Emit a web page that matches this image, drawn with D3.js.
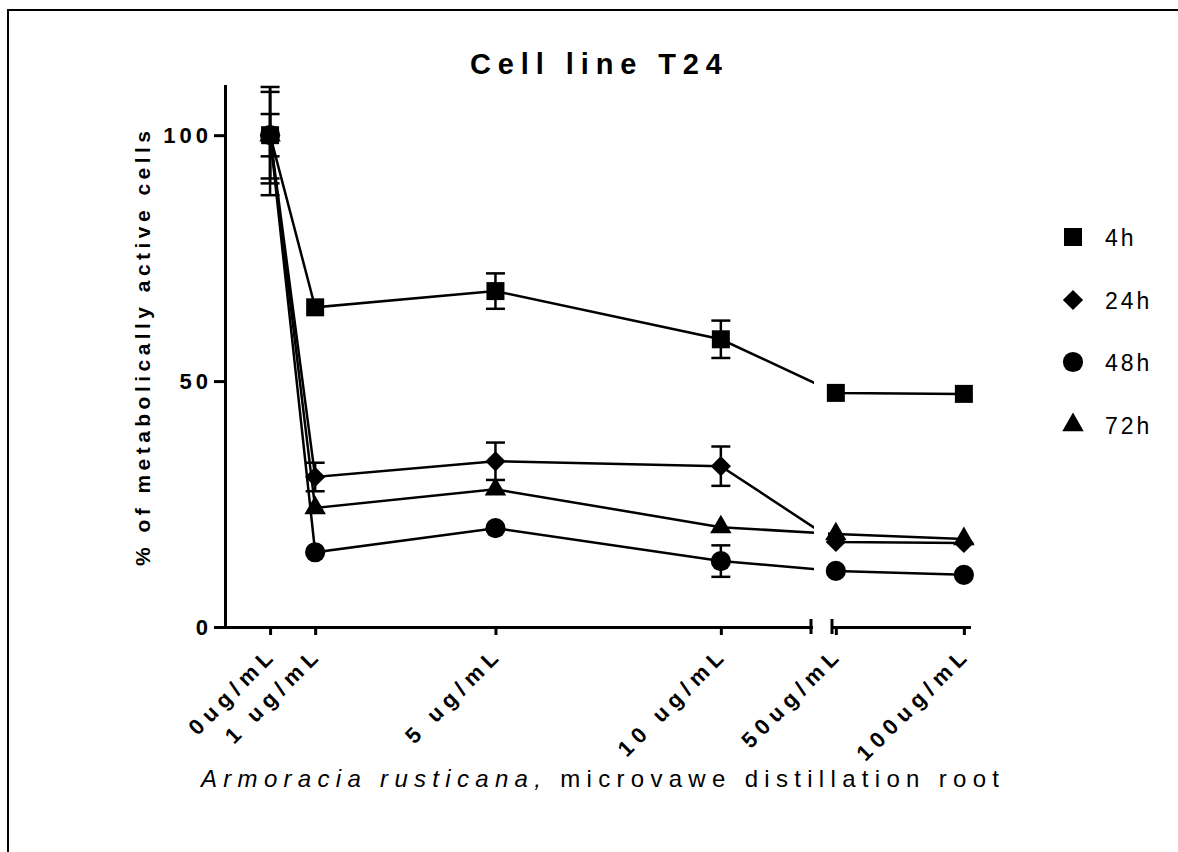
<!DOCTYPE html>
<html>
<head>
<meta charset="utf-8">
<style>
  body { margin: 0; background: #fff; }
  svg { display: block; font-family: "Liberation Sans", Arial, sans-serif; }
</style>
</head>
<body>
<svg width="1178" height="852"></svg>
<script src="https://d3js.org/d3.v7.min.js"></script>
<script>
// doses (ug/mL) and their tick labels
const doses = [0, 1, 5, 10, 50, 100];
const doseLabels = ["0ug/mL", "1 ug/mL", "5 ug/mL", "10 ug/mL", "50ug/mL", "100ug/mL"];
const seriesNames = ["4h", "24h", "48h", "72h"];

// % of metabolically active cells, mean and SD per dose
const values4h  = [100, 65.0, 68.3, 58.5, 47.6, 47.4];
const err4h     = [4.3, 0, 3.6, 3.8, 0, 0];
const values24h = [100, 30.5, 33.7, 32.7, 17.3, 17.1];
const err24h    = [9.8, 2.9, 3.8, 4.0, 0, 0];
const values48h = [100, 15.2, 20.1, 13.4, 11.4, 10.6];
const err48h    = [8.8, 0, 0, 3.2, 0, 0];
const values72h = [100, 24.2, 28.0, 20.3, 18.9, 17.9];
const err72h    = [12.2, 0, 0, 0, 0, 0];

const yTicks = [0, 50, 100];

const series = [
  { name: seriesNames[0], values: values4h,  errs: err4h,  shape: "square" },
  { name: seriesNames[1], values: values24h, errs: err24h, shape: "diamond" },
  { name: seriesNames[2], values: values48h, errs: err48h, shape: "circle" },
  { name: seriesNames[3], values: values72h, errs: err72h, shape: "triangle" }
];

const svg = d3.select("svg");

// outer frame (only top and left edges show)
svg.append("path").attr("d", "M8,852V10H1178")
  .attr("fill", "none").attr("stroke", "#000").attr("stroke-width", 2);

// broken x axis: two linear segments
const xLow = d3.scaleLinear().domain([-1, 12]).range([225, 811]);
const xHigh = d3.scaleLinear().domain([48.5, 102]).range([832, 969]);
const xPos = v => v <= 12 ? xLow(v) : xHigh(v);
const y = d3.scaleLinear().domain([0, 110]).range([627, 86]);

// axes
const axisW = 3;
const gxLow = svg.append("g").attr("transform", "translate(0,627)")
  .call(d3.axisBottom(xLow).tickValues([0, 1, 5, 10]).tickSize(8).tickSizeOuter(0).tickFormat(""));
const gxHigh = svg.append("g").attr("transform", "translate(0,627)")
  .call(d3.axisBottom(xHigh).tickValues([50, 100]).tickSize(8).tickSizeOuter(0).tickFormat(""));
const gy = svg.append("g").attr("transform", "translate(225,0)")
  .call(d3.axisLeft(y).tickValues(yTicks).tickSize(11).tickSizeOuter(0).tickPadding(2));

[gxLow, gxHigh, gy].forEach(g => {
  g.selectAll("path, line").attr("stroke", "#000").attr("stroke-width", axisW);
  g.select(".domain").attr("stroke-linecap", "square");
});
gy.selectAll("text")
  .attr("fill", "#000").attr("font-size", 22).attr("font-weight", "bold")
  .attr("font-family", "Liberation Sans, Arial, sans-serif")
  .attr("letter-spacing", "4px");

// break marks
[811, 832].forEach(bx => {
  svg.append("line").attr("x1", bx).attr("x2", bx).attr("y1", 619).attr("y2", 634)
    .attr("stroke", "#000").attr("stroke-width", axisW);
});

// x tick labels, rotated
const tickLS = 6;
svg.append("g").selectAll("text").data(doses).join("text")
  .attr("transform", d => `translate(${xPos(d) + 4 + tickLS * 0.707},${660 - tickLS * 0.707}) rotate(-45)`)
  .attr("text-anchor", "end")
  .attr("font-size", 22).attr("font-weight", "bold")
  .attr("letter-spacing", tickLS + "px")
  .text((d, i) => doseLabels[i]);

// titles
svg.append("text").attr("x", 470).attr("y", 74)
  .attr("font-size", 29).attr("font-weight", "bold")
  .attr("textLength", 252).attr("lengthAdjust", "spacing")
  .text("Cell line T24");

svg.append("text")
  .attr("transform", "translate(150,566) rotate(-90)")
  .attr("font-size", 21).attr("font-weight", "bold")
  .attr("textLength", 435).attr("lengthAdjust", "spacing")
  .text("% of metabolically active cells");

const xt = svg.append("text").attr("x", 201).attr("y", 787)
  .attr("font-size", 24)
  .attr("textLength", 798).attr("lengthAdjust", "spacing");
xt.append("tspan").attr("font-style", "italic").text("Armoracia rusticana,");
xt.append("tspan").text(" microvawe distillation root");

// symbols
function symbolPath(shape) {
  if (shape === "square") return d3.symbol(d3.symbolSquare, 324)();
  if (shape === "diamond") return d3.symbol(d3.symbolSquare, 205)();
  if (shape === "circle") return d3.symbol(d3.symbolCircle, 320)();
  return d3.symbol(d3.symbolTriangle, 200)();
}
const symRot = shape => shape === "diamond" ? " rotate(45)" : "";

// lines, clipped across the axis break
const defs = svg.append("defs");
const clip = defs.append("clipPath").attr("id", "brk");
clip.append("rect").attr("x", 0).attr("y", 0).attr("width", 814).attr("height", 852);
clip.append("rect").attr("x", 828).attr("y", 0).attr("width", 350).attr("height", 852);

const line = d3.line().x(d => xPos(d.dose)).y(d => y(d.value));
const gLines = svg.append("g").attr("clip-path", "url(#brk)");
series.forEach(s => {
  const pts = doses.map((d, i) => ({ dose: d, value: s.values[i] }));
  gLines.append("path").datum(pts).attr("d", line)
    .attr("fill", "none").attr("stroke", "#000").attr("stroke-width", 2.5);
});

// error bars
const gErr = svg.append("g").attr("stroke", "#000").attr("stroke-width", 2.5);
const yMax = y.domain()[1];
series.forEach(s => {
  doses.forEach((d, i) => {
    const e = s.errs[i];
    if (!e) return;
    const cx = xPos(d);
    const hi = Math.min(s.values[i] + e, yMax);
    const lo = s.values[i] - e;
    gErr.append("line").attr("x1", cx).attr("x2", cx).attr("y1", y(lo)).attr("y2", y(hi));
    gErr.append("line").attr("x1", cx - 9.5).attr("x2", cx + 9.5).attr("y1", y(lo)).attr("y2", y(lo));
    if (s.values[i] + e <= yMax) {
      gErr.append("line").attr("x1", cx - 9.5).attr("x2", cx + 9.5).attr("y1", y(hi)).attr("y2", y(hi));
    }
  });
});

// markers
series.forEach(s => {
  svg.append("g").selectAll("path").data(doses).join("path")
    .attr("transform", (d, i) => `translate(${xPos(d)},${y(s.values[i])})${symRot(s.shape)}`)
    .attr("d", symbolPath(s.shape))
    .attr("fill", "#000");
});

// legend
const legendY = [237, 300, 362, 425];
const lg = svg.append("g");
series.forEach((s, i) => {
  lg.append("path")
    .attr("transform", `translate(1073,${legendY[i]})${symRot(s.shape)}`)
    .attr("d", symbolPath(s.shape)).attr("fill", "#000");
  lg.append("text").attr("x", 1105).attr("y", legendY[i] + 9)
    .attr("font-size", 23).attr("letter-spacing", "3px")
    .text(s.name);
});
</script>
</body>
</html>
